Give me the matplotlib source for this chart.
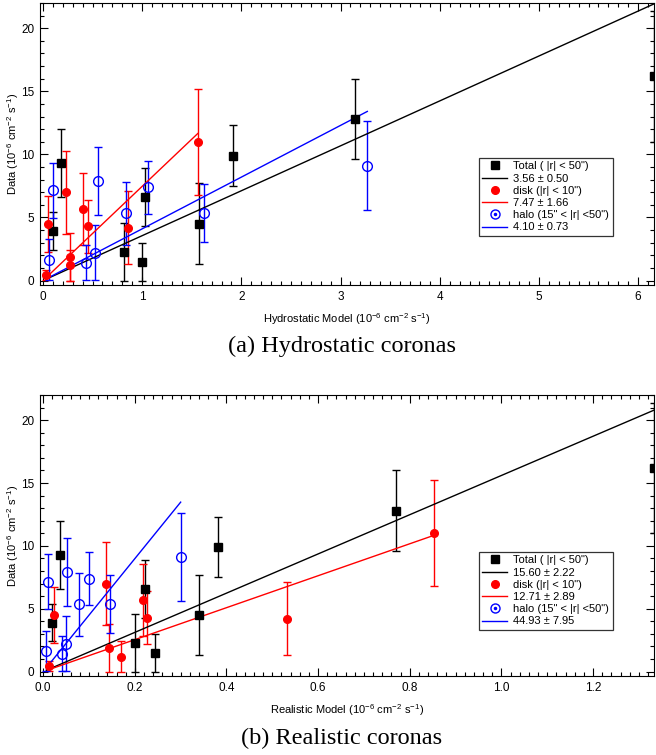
import matplotlib
matplotlib.use("Agg")
import matplotlib.pyplot as plt
import numpy as np
from matplotlib.lines import Line2D
from matplotlib.legend_handler import HandlerTuple
from matplotlib.ticker import MultipleLocator

plt.rcParams['font.family'] = ['Liberation Sans', 'DejaVu Sans']
plt.rcParams['mathtext.default'] = 'regular'

# ---------------- data ----------------
total_y = [3.9, 9.3, 2.3, 1.5, 6.6, 4.5, 9.9, 12.8, 16.2]
total_err = [1.5, 2.7, 2.3, 1.5, 2.3, 3.2, 2.4, 3.2, 5.2]
total_x_hydro = [0.10, 0.18, 0.82, 1.00, 1.03, 1.57, 1.92, 3.145, 6.16]
total_x_real = [0.020, 0.037, 0.201, 0.244, 0.223, 0.340, 0.382, 0.769, 1.333]

disk_y = [0.45, 4.5, 7.0, 1.9, 1.2, 5.7, 4.3, 4.2, 11.0]
disk_err = [0.4, 2.2, 3.3, 1.9, 1.2, 2.85, 2.1, 2.9, 4.2]
disk_x_hydro = [0.034, 0.05, 0.23, 0.27, 0.27, 0.40, 0.45, 0.86, 1.56]
disk_x_real = [0.013, 0.023, 0.138, 0.143, 0.170, 0.218, 0.226, 0.532, 0.853]

halo_y = [1.66, 7.14, 1.42, 2.22, 7.91, 5.35, 7.4, 5.35, 9.11]
halo_err = [1.6, 2.2, 1.4, 2.2, 2.7, 2.5, 2.1, 2.3, 3.5]
halo_x_hydro = [0.06, 0.105, 0.43, 0.52, 0.55, 0.84, 1.06, 1.62, 3.27]
halo_x_real = [0.007, 0.011, 0.040, 0.049, 0.051, 0.078, 0.0997, 0.146, 0.300]

slopes_hydro = [3.56, 7.47, 4.10]
slope_err_hydro = [0.50, 1.66, 0.73]
slopes_real = [15.60, 12.71, 44.93]
slope_err_real = [2.22, 2.89, 7.95]

panels = [
    dict(tx=total_x_hydro, dx=disk_x_hydro, hx=halo_x_hydro,
         slopes=slopes_hydro, serr=slope_err_hydro,
         xlabel='Hydrostatic Model (10$^{-6}$ cm$^{-2}$ s$^{-1}$)',
         caption='(a) Hydrostatic coronas',
         xlim=(-0.03, 6.16), xmaj=1, xmin=0.1, xfmt='%d'),
    dict(tx=total_x_real, dx=disk_x_real, hx=halo_x_real,
         slopes=slopes_real, serr=slope_err_real,
         xlabel='Realistic Model (10$^{-6}$ cm$^{-2}$ s$^{-1}$)',
         caption='(b) Realistic coronas',
         xlim=(-0.007, 1.333), xmaj=0.2, xmin=0.02, xfmt='%.1f'),
]

W, H = 656, 755
fig = plt.figure(figsize=(W / 100, H / 100), dpi=100)

# axes boxes in pixels: left, top, right, bottom
boxes = [(40, 3, 654, 285), (40, 395, 654, 676)]
captions_y = [346, 738]

for p, (l, t, r, b), cy in zip(panels, boxes, captions_y):
    ax = fig.add_axes([l / W, 1 - b / H, (r - l) / W, (b - t) / H])
    ax.set_xlim(*p['xlim'])
    ax.set_ylim(-0.35, 22.0)

    kw = dict(capsize=3, elinewidth=1, capthick=1, linestyle='none')
    ax.errorbar(p['tx'], total_y, yerr=total_err, fmt='s', color='black',
                ms=5.5, **kw)
    ax.errorbar(p['dx'], disk_y, yerr=disk_err, fmt='o', color='red',
                ms=5.5, **kw)
    ax.errorbar(p['hx'], halo_y, yerr=halo_err, fmt='o', color='blue',
                mfc='none', mec='blue', ms=7, mew=1, **kw)

    allx = p['tx'] + p['dx'] + p['hx']
    groups = [(min(allx), max(p['tx']), 'black'),
              (min(p['dx']), max(p['dx']), 'red'),
              (min(p['hx']), max(p['hx']), 'blue')]
    for (x0, x1, c), s in zip(groups, p['slopes']):
        xs = np.array([x0, x1])
        ax.plot(xs, s * xs, color=c, lw=1)

    ax.xaxis.set_major_locator(MultipleLocator(p['xmaj']))
    ax.xaxis.set_minor_locator(MultipleLocator(p['xmin']))
    ax.xaxis.set_major_formatter(plt.FormatStrFormatter(p['xfmt']))
    ax.yaxis.set_major_locator(MultipleLocator(5))
    ax.yaxis.set_minor_locator(MultipleLocator(1))
    ax.tick_params(which='both', direction='in', top=True, right=True,
                   labelsize=8.5, width=0.8)
    ax.tick_params(which='major', length=6, pad=4)
    ax.tick_params(which='minor', length=3)
    for sp in ax.spines.values():
        sp.set_linewidth(0.8)

    ax.set_xlabel(p['xlabel'], fontsize=8, labelpad=6)
    ax.set_ylabel('Data (10$^{-6}$ cm$^{-2}$ s$^{-1}$)', fontsize=8, labelpad=0)

    # legend
    h_tot = Line2D([], [], marker='s', color='black', ls='none', ms=5.5)
    h_dsk = Line2D([], [], marker='o', color='red', ls='none', ms=5.5)
    h_hal1 = Line2D([], [], marker='o', mfc='none', mec='blue', ls='none', ms=6.5, mew=1)
    h_hal2 = Line2D([], [], marker='o', color='blue', ls='none', ms=1.5)
    lines = [Line2D([], [], color=c, lw=1) for c in ['black', 'red', 'blue']]
    handles = [h_tot, lines[0], h_dsk, lines[1], (h_hal1, h_hal2), lines[2]]
    labels = ['Total ( |r| < 50")',
              '%.2f ± %.2f' % (p['slopes'][0], p['serr'][0]),
              'disk (|r| < 10")',
              '%.2f ± %.2f' % (p['slopes'][1], p['serr'][1]),
              'halo (15" < |r| <50")',
              '%.2f ± %.2f' % (p['slopes'][2], p['serr'][2])]
    lx = (479 - l) / (r - l)
    ly = (b - (158 if t < 100 else 552)) / (b - t)
    leg = ax.legend(handles, labels, loc='upper left', bbox_to_anchor=(lx, ly),
                    borderaxespad=0, fontsize=8, frameon=True, fancybox=False,
                    framealpha=1, edgecolor='#333333', handlelength=2.2,
                    handletextpad=0.6, labelspacing=0.2, borderpad=0.3,
                    numpoints=1, handler_map={tuple: HandlerTuple(ndivide=1)})
    leg.get_frame().set_linewidth(0.9)

    fig.text(342 / W, 1 - cy / H, p['caption'],
             family=['Liberation Serif', 'DejaVu Serif'], fontsize=17.5,
             ha='center', va='center')

fig.savefig('out.png', dpi=100)
